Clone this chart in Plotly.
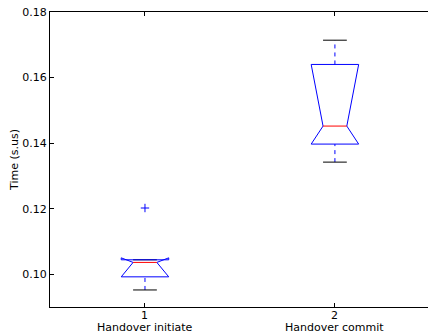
import plotly.graph_objects as go

# Summary statistics for the two notched boxes
positions = [1, 2]
categories = ["Handover initiate", "Handover commit"]
q1 = [0.0992, 0.1397]
median = [0.1036, 0.1452]
q3 = [0.1044, 0.1640]
notch_lo = [0.0992, 0.1397]
notch_hi = [0.1050, 0.1640]
whisker_lo = [0.0952, 0.1342]
whisker_hi = [0.1044, 0.1714]
fliers = [[0.1202], []]

y_ticks = [0.10, 0.12, 0.14, 0.16, 0.18]

BOX_W = 0.25
NOTCH_W = BOX_W / 2
CAP_W = BOX_W / 2
FONT = dict(family="DejaVu Sans", size=11, color="#000000")

fig = go.Figure()

for i, x in enumerate(positions):
    # whiskers (dashed blue)
    for lo, hi in ((whisker_lo[i], q1[i]), (q3[i], whisker_hi[i])):
        fig.add_trace(go.Scatter(
            x=[x, x], y=[lo, hi], mode="lines",
            line=dict(color="#0000ff", width=1, dash="4px,4px"),
            hoverinfo="skip", showlegend=False))
    # caps (black)
    for v in (whisker_lo[i], whisker_hi[i]):
        fig.add_trace(go.Scatter(
            x=[x - CAP_W / 2, x + CAP_W / 2], y=[v, v], mode="lines",
            line=dict(color="#000000", width=1),
            hoverinfo="skip", showlegend=False))
    # notched box outline
    L, R = x - BOX_W / 2, x + BOX_W / 2
    cL, cR = x - NOTCH_W / 2, x + NOTCH_W / 2
    bx = [L, R, R, cR, R, R, L, L, cL, L, L]
    by = [q1[i], q1[i], notch_lo[i], median[i], notch_hi[i], q3[i],
          q3[i], notch_hi[i], median[i], notch_lo[i], q1[i]]
    fig.add_trace(go.Scatter(
        x=bx, y=by, mode="lines",
        line=dict(color="#0000ff", width=1),
        hoverinfo="skip", showlegend=False))
    # median (red)
    fig.add_trace(go.Scatter(
        x=[cL, cR], y=[median[i], median[i]], mode="lines",
        line=dict(color="#ff0000", width=1),
        hoverinfo="skip", showlegend=False))
    # outliers
    if fliers[i]:
        fig.add_trace(go.Scatter(
            x=[x] * len(fliers[i]), y=fliers[i], mode="markers",
            marker=dict(symbol="cross-thin", size=6,
                        line=dict(color="#0000ff", width=1)),
            hoverinfo="skip", showlegend=False))

# x labels: position number with the category name underneath
for p, c in zip(positions, categories):
    fig.add_annotation(x=p, xref="x", y=0, yref="paper", text=str(p),
                       showarrow=False, font=FONT, yanchor="middle",
                       yshift=-8)
    fig.add_annotation(x=p, xref="x", y=0, yref="paper", text=c,
                       showarrow=False, font=FONT, yanchor="middle",
                       yshift=-20)

fig.update_layout(
    width=428, height=335,
    margin=dict(l=50, r=0, t=12, b=28),
    paper_bgcolor="white", plot_bgcolor="white",
    font=FONT,
    xaxis=dict(
        range=[0.5, 2.49],
        tickvals=positions, showticklabels=False,
        ticks="inside", ticklen=4, tickcolor="#000000",
        showline=True, linecolor="#000000", linewidth=1, mirror="ticks",
        showgrid=False, zeroline=False, automargin=False,
    ),
    yaxis=dict(
        range=[0.09, 0.18],
        tickvals=y_ticks,
        ticktext=[f"{v:.2f}" for v in y_ticks],
        ticks="inside", ticklen=4, tickcolor="#000000",
        showline=True, linecolor="#000000", linewidth=1,
        showgrid=False, zeroline=False, tickfont=FONT, automargin=False,
        title=dict(text="Time (s.us)", font=FONT, standoff=1),
    ),
)

fig.write_html("out.html")
